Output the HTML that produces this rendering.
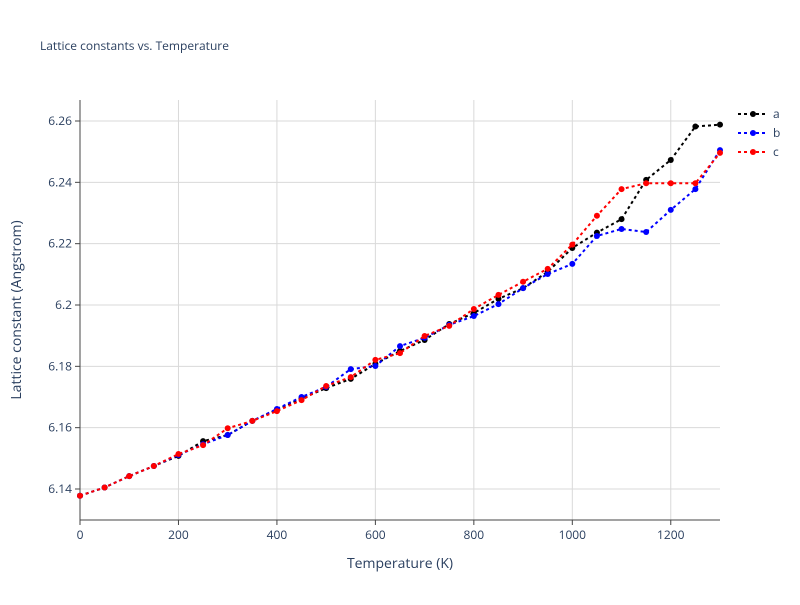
<!DOCTYPE html>
<html><head><meta charset="utf-8"><style>
body{margin:0;background:#fff}
svg text{font-family:"Open Sans","Liberation Sans",sans-serif}
</style></head><body>
<svg id="chart" width="800" height="600" xmlns="http://www.w3.org/2000/svg">
<rect width="800" height="600" fill="#fff"/>
<text x="40" y="50" font-size="12" fill="#2a3f5f">Lattice constants vs. Temperature</text>
<g id="grid"></g>
<g id="axes"></g>
<g id="series"></g>
<g id="legend"></g>
<text x="400" y="568" font-size="14" fill="#2a3f5f" text-anchor="middle">Temperature (K)</text>
<text transform="translate(21,310) rotate(-90)" font-size="14" fill="#2a3f5f" text-anchor="middle">Lattice constant (Angstrom)</text>
</svg>
<script>
const temps=[0,50,100,150,200,250,300,350,400,450,500,550,600,650,700,750,800,850,900,950,1000,1050,1100,1150,1200,1250,1300];
const seriesA=[6.1378,6.1405,6.1442,6.1475,6.1508,6.1556,6.1576,6.1622,6.1658,6.1695,6.1729,6.1759,6.1808,6.1850,6.1886,6.1938,6.1974,6.2020,6.2055,6.2108,6.2186,6.2236,6.2280,6.2408,6.2473,6.2582,6.2588];
const seriesB=[6.1378,6.1405,6.1442,6.1475,6.1511,6.1546,6.1576,6.1622,6.1661,6.1700,6.1733,6.1791,6.1801,6.1866,6.1893,6.1935,6.1964,6.2003,6.2055,6.2101,6.2134,6.2225,6.2248,6.2238,6.2310,6.2378,6.2505];
const seriesC=[6.1378,6.1405,6.1442,6.1475,6.1514,6.1543,6.1598,6.1622,6.1654,6.1690,6.1736,6.1765,6.1821,6.1843,6.1899,6.1932,6.1987,6.2033,6.2076,6.2118,6.2197,6.2291,6.2378,6.2397,6.2397,6.2397,6.2496];
const xTicks=[0,200,400,600,800,1000,1200];
const yTicks=[6.14,6.16,6.18,6.2,6.22,6.24,6.26];
const NS="http://www.w3.org/2000/svg";
const L=80,R=720,T=100,B=520;
function sx(t){return L+(t-0)/1300*(R-L);}
function sy(v){return 121+(6.26-v)*(489-121)/0.12;}
function mk(tag,attrs,parent){const e=document.createElementNS(NS,tag);for(const k in attrs)e.setAttribute(k,attrs[k]);parent.appendChild(e);return e;}
const grid=document.getElementById('grid'),axes=document.getElementById('axes'),ser=document.getElementById('series'),leg=document.getElementById('legend');
xTicks.forEach(t=>{
 const g=mk('line',{x1:sx(t),x2:sx(t),y1:T,y2:B,stroke:'#d9d9d9','stroke-width':1},grid);
 
 
 const tk=mk('line',{x1:sx(t),x2:sx(t),y1:B,y2:B+5,stroke:'#444','stroke-width':1},axes);
 
 
 const tx=mk('text',{x:sx(t),y:B+19,'font-size':12,fill:'#2a3f5f','text-anchor':'middle'},axes);
 tx.textContent=t;
 
 
});
yTicks.forEach(v=>{
 const g=mk('line',{x1:L,x2:R,y1:sy(v),y2:sy(v),stroke:'#d9d9d9','stroke-width':1},grid);
 
 
 const tk=mk('line',{x1:L-5,x2:L,y1:sy(v),y2:sy(v),stroke:'#444','stroke-width':1},axes);
 
 
 const tx=mk('text',{x:L-8,y:sy(v)+4,'font-size':12,fill:'#2a3f5f','text-anchor':'end'},axes);
 tx.textContent=String(v);
 
 
});
const xa=mk('line',{x1:L,x2:R,y1:B,y2:B,stroke:'#444','stroke-width':1},axes);


const ya=mk('line',{x1:L,x2:L,y1:T,y2:B,stroke:'#444','stroke-width':1},axes);


const defs=[['a',seriesA,'#000'],['b',seriesB,'#0000ff'],['c',seriesC,'#ff0000']];
defs.forEach(([name,vals,col],i)=>{
 const g=mk('g',{},ser);
 
 
 const pts=temps.map((t,j)=>sx(t)+','+sy(vals[j])).join(' ');
 const pl=mk('polyline',{points:pts,fill:'none',stroke:col,'stroke-width':2,'stroke-dasharray':'3,3'},g);
 
 
 temps.forEach((t,j)=>{
  const c=mk('circle',{cx:sx(t),cy:sy(vals[j]),r:3,fill:col},g);
  
  
 });
 const ly=114+i*19;
 const lg=mk('g',{},leg);
 
 
 mk('line',{x1:738,x2:768,y1:ly,y2:ly,stroke:col,'stroke-width':2,'stroke-dasharray':'3,3'},lg);
 mk('circle',{cx:753,cy:ly,r:3,fill:col},lg);
 const lt=mk('text',{x:773,y:ly+4,'font-size':12,fill:'#2a3f5f'},lg);
 lt.textContent=name;
});
</script>
</body></html>
